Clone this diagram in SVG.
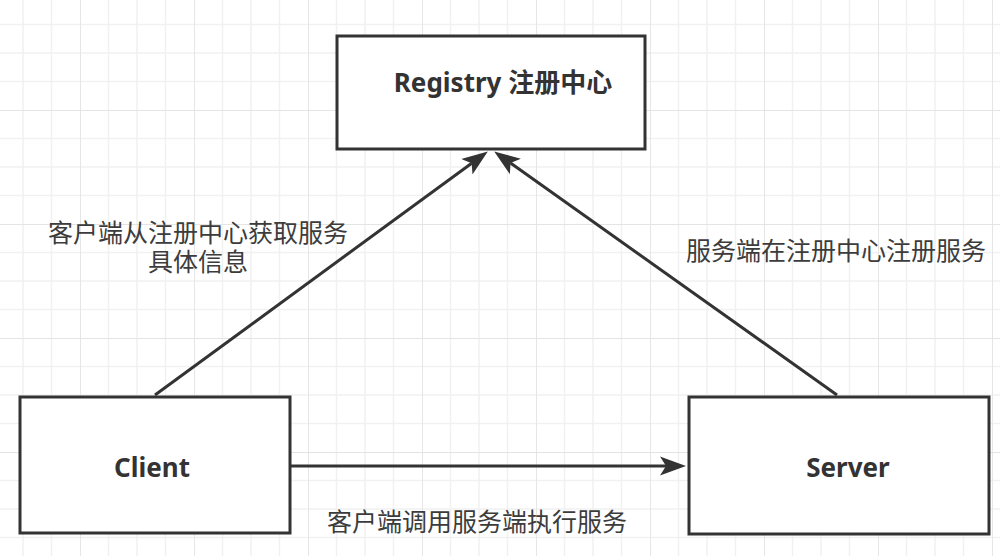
<svg xmlns="http://www.w3.org/2000/svg" width="1000" height="556" viewBox="0 0 1000 556">
  <style>
    .box { fill: #ffffff; stroke: #333333; stroke-width: 3; }
    .name { font-family: "Noto Sans", "Noto Sans CJK SC", sans-serif; font-weight: bold; font-size: 26px; fill: #333333; text-anchor: middle; }
    .edge { fill: none; stroke: #333333; stroke-width: 3; }
    .lbl { font-family: "Noto Sans CJK SC", "Noto Sans", sans-serif; font-size: 25px; fill: #3c3c3c; text-anchor: middle; }
  </style>
  <defs>
    <pattern id="grid" x="80" y="110" width="114" height="114" patternUnits="userSpaceOnUse">
      <path d="M28.5,0 V114 M57,0 V114 M85.5,0 V114 M0,28.5 H114 M0,57 H114 M0,85.5 H114" stroke="#f1f1f1" stroke-width="1.5" fill="none"/>
      <path d="M0,0 V114 M0,0 H114" stroke="#e4e4e4" stroke-width="1.8" fill="none"/>
    </pattern>
    <marker id="arrow" markerUnits="userSpaceOnUse" markerWidth="30" markerHeight="24" viewBox="0 -12 30 24" refX="6" refY="0" orient="auto">
      <path d="M0,-9.5 L26,0 L0,9.5 L6,0 z" fill="#333333"/>
    </marker>
  </defs>
  <rect width="1000" height="556" fill="#ffffff"/>
  <rect width="1000" height="556" fill="url(#grid)"/>

  <g id="connectors">
    <path class="edge" d="M155,395 L471.7,163.2" marker-end="url(#arrow)"/>
    <path class="edge" d="M837,395 L510.5,163" marker-end="url(#arrow)"/>
    <path class="edge" d="M291,466 L666,466" marker-end="url(#arrow)"/>
    <text class="lbl" x="198" y="242"><tspan x="198" y="242">客户端从注册中心获取服务</tspan><tspan x="198" y="271">具体信息</tspan></text>
    <text class="lbl" x="836" y="260">服务端在注册中心注册服务</text>
    <text class="lbl" x="477" y="531">客户端调用服务端执行服务</text>
  </g>

  <g id="registry">
    <rect class="box" x="337" y="36" width="308" height="113"/>
    <text class="name" x="503" y="92">Registry 注册中心</text>
  </g>
  <g id="client">
    <rect class="box" x="20" y="397" width="270" height="136"/>
    <text class="name" x="152" y="477">Client</text>
  </g>
  <g id="server">
    <rect class="box" x="689" y="397" width="300" height="137"/>
    <text class="name" x="848" y="477">Server</text>
  </g>
</svg>
